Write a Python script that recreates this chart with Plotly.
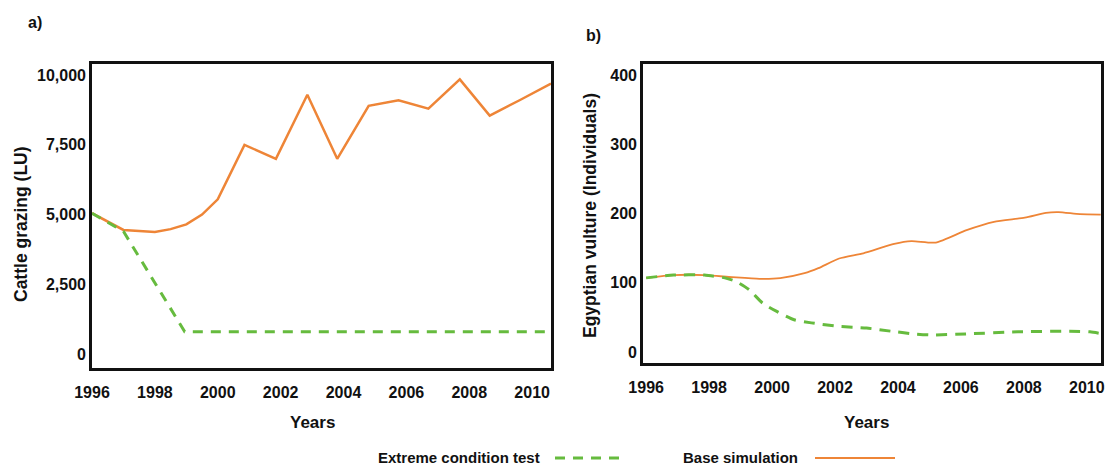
import plotly.graph_objects as go

# Panel a: cattle grazing (livestock units)
cattle_base_years = [1996, 1997, 1998, 1998.5, 1999, 1999.5, 2000, 2000.85, 2001.85,
                     2002.85, 2003.8, 2004.8, 2005.75, 2006.7, 2007.7, 2008.65,
                     2009.6, 2010.6]
cattle_base = [5050, 4450, 4380, 4480, 4650, 5000, 5550, 7500, 7000,
               9300, 7000, 8900, 9100, 8800, 9850, 8550, 9100, 9700]

cattle_extreme_years = [1996, 1997, 1998.95, 2010.6]
cattle_extreme = [5050, 4400, 800, 800]

# Panel b: Egyptian vulture population (individuals)
vulture_base_years = [1996, 1996.87, 1997.85, 1998.73, 1999.6, 2000.26, 2001.03,
                      2001.47, 2002.13, 2002.9, 2003.88, 2004.43, 2005.2, 2006.18,
                      2007.05, 2008.03, 2008.7, 2009.1, 2009.78, 2010.44]
vulture_base = [107, 111, 111, 108, 105.5, 106.5, 113.7, 121, 135, 142.5, 156,
                160, 158, 176, 188, 194, 201, 202, 199, 198.5]

vulture_extreme_years = [1996, 1996.87, 1997.85, 1998.5, 1998.85, 1999.27, 1999.7,
                         2000.15, 2000.7, 2001.25, 2002.1, 2003.0, 2003.77, 2004.5,
                         2005.06, 2006.15, 2007.8, 2009.46, 2010.1, 2010.44]
vulture_extreme = [107, 111, 111, 107, 102, 90, 70.5, 58.5, 46.5, 42, 37, 34.5,
                   30, 26, 24.5, 26, 29, 30, 29, 26.5]

year_ticks = [1996, 1998, 2000, 2002, 2004, 2006, 2008, 2010]
cattle_ticks = [0, 2500, 5000, 7500, 10000]
vulture_ticks = [0, 100, 200, 300, 400]

ORANGE = "#EE8537"
GREEN = "#66BB3E"
FONT = "Liberation Sans"
INK = "#111111"
W, H = 1110, 465

fig = go.Figure()

fig.add_trace(go.Scatter(x=cattle_base_years, y=cattle_base, mode="lines",
                         line=dict(color=ORANGE, width=2.5),
                         xaxis="x", yaxis="y", showlegend=False))
fig.add_trace(go.Scatter(x=cattle_extreme_years, y=cattle_extreme, mode="lines",
                         line=dict(color=GREEN, width=3, dash="10px,8px"),
                         xaxis="x", yaxis="y", showlegend=False))
fig.add_trace(go.Scatter(x=vulture_base_years, y=vulture_base, mode="lines",
                         line=dict(color=ORANGE, width=1.8, shape="spline", smoothing=0.6),
                         xaxis="x2", yaxis="y2", showlegend=False))
fig.add_trace(go.Scatter(x=vulture_extreme_years, y=vulture_extreme, mode="lines",
                         line=dict(color=GREEN, width=3, dash="11px,8px",
                                   shape="spline", smoothing=0.6),
                         xaxis="x2", yaxis="y2", showlegend=False))

tick_font = dict(family=FONT, size=16, color=INK, weight="bold")
frame = dict(showline=True, linecolor=INK, linewidth=2.6, mirror=True,
             showgrid=False, zeroline=False, ticks="", tickfont=tick_font,
             automargin=False)

fig.update_layout(
    width=W, height=H,
    margin=dict(l=0, r=0, t=0, b=0, autoexpand=False),
    paper_bgcolor="white", plot_bgcolor="white",
    font=dict(family=FONT, color=INK),
    showlegend=False,
    xaxis=dict(domain=[92 / W, 551 / W], range=[1996, 2010.6], tickvals=year_ticks,
               anchor="y", ticklabelstandoff=8, **frame),
    yaxis=dict(domain=[1 - 368 / H, 1 - 64 / H], range=[-500, 10400],
               tickvals=cattle_ticks, tickformat=",", anchor="x",
               ticklabelstandoff=0, **frame),
    xaxis2=dict(domain=[643 / W, 1101 / W], range=[1995.9, 2010.45], tickvals=year_ticks,
                anchor="y2", ticklabelstandoff=8, **frame),
    yaxis2=dict(domain=[1 - 363 / H, 1 - 64 / H], range=[-16, 416],
                tickvals=vulture_ticks, anchor="x2", ticklabelstandoff=0, **frame),
)

def text(x, y, s, size=16, xanchor="center", angle=0):
    fig.add_annotation(x=x / W, y=1 - y / H, xref="paper", yref="paper", text=f"<b>{s}</b>",
                       showarrow=False, xanchor=xanchor, yanchor="middle", textangle=angle,
                       font=dict(family=FONT, size=size, color=INK))

# Panel letters
text(35, 23, "a)", size=16)
text(593, 35, "b)", size=16)

# Axis titles
text(312, 422, "Years", size=17)
text(866, 422, "Years", size=17)
text(21, 224, "Cattle grazing (LU)", size=17.5, angle=-90)
text(590, 216, "Egyptian vulture (Individuals)", size=17.5, angle=-90)

# Legend below the panels
text(542, 457, "Extreme condition test", size=15, xanchor="right")
text(800, 457, "Base simulation", size=15, xanchor="right")
fig.add_shape(type="line", xref="paper", yref="paper",
              x0=555 / W, x1=622 / W, y0=1 - 458 / H, y1=1 - 458 / H,
              line=dict(color=GREEN, width=3, dash="10px,8px"))
fig.add_shape(type="line", xref="paper", yref="paper",
              x0=815 / W, x1=895 / W, y0=1 - 458 / H, y1=1 - 458 / H,
              line=dict(color=ORANGE, width=2))

fig.write_html("out.html")
